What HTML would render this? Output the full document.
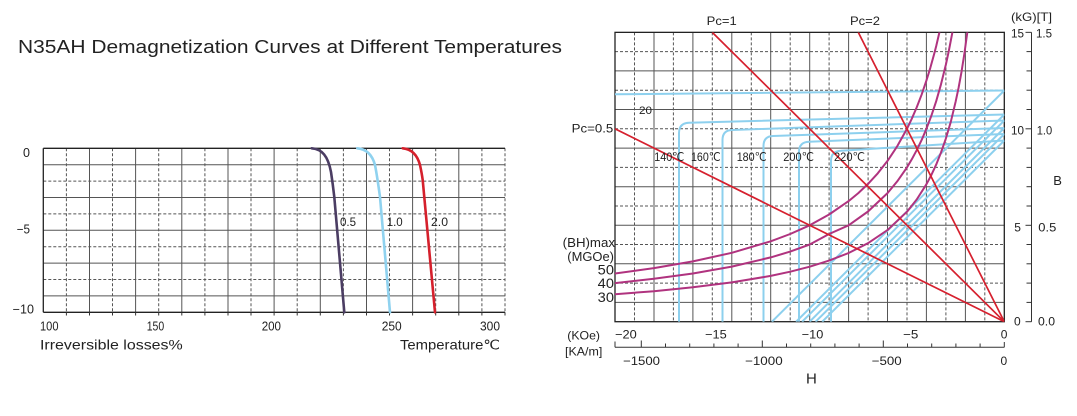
<!DOCTYPE html>
<html><head><meta charset="utf-8"><style>
html,body{margin:0;padding:0;background:#fff;}
svg{display:block;}
text{font-family:"Liberation Sans",Arial,sans-serif;fill:#222;}
</style></head><body>
<svg width="1077" height="416" viewBox="0 0 1077 416" xmlns="http://www.w3.org/2000/svg">
<rect width="1077" height="416" fill="#fff"/>
<text x="18" y="53" font-size="18.5" textLength="544" lengthAdjust="spacingAndGlyphs">N35AH Demagnetization Curves at Different Temperatures</text>

<!-- LEFT CHART GRID -->
<g stroke="#555" stroke-width="1" fill="none">
<g stroke-dasharray="3 2">
<line x1="66.4" y1="148.3" x2="66.4" y2="312.3"/><line x1="112.5" y1="148.3" x2="112.5" y2="312.3"/>
<line x1="158.7" y1="148.3" x2="158.7" y2="312.3"/><line x1="204.9" y1="148.3" x2="204.9" y2="312.3"/>
<line x1="251.0" y1="148.3" x2="251.0" y2="312.3"/><line x1="297.2" y1="148.3" x2="297.2" y2="312.3"/>
<line x1="343.4" y1="148.3" x2="343.4" y2="312.3"/><line x1="389.5" y1="148.3" x2="389.5" y2="312.3"/>
<line x1="435.7" y1="148.3" x2="435.7" y2="312.3"/><line x1="481.9" y1="148.3" x2="481.9" y2="312.3"/>
<line x1="505" y1="148.3" x2="505" y2="312.3"/>
<line x1="43.3" y1="181.1" x2="505" y2="181.1"/><line x1="43.3" y1="213.9" x2="505" y2="213.9"/>
<line x1="43.3" y1="246.7" x2="505" y2="246.7"/><line x1="43.3" y1="279.5" x2="505" y2="279.5"/>
</g>
<line x1="89.5" y1="148.3" x2="89.5" y2="312.3"/><line x1="135.6" y1="148.3" x2="135.6" y2="312.3"/>
<line x1="181.8" y1="148.3" x2="181.8" y2="312.3"/><line x1="228.0" y1="148.3" x2="228.0" y2="312.3"/>
<line x1="274.1" y1="148.3" x2="274.1" y2="312.3"/><line x1="320.3" y1="148.3" x2="320.3" y2="312.3"/>
<line x1="366.5" y1="148.3" x2="366.5" y2="312.3"/><line x1="412.6" y1="148.3" x2="412.6" y2="312.3"/>
<line x1="458.8" y1="148.3" x2="458.8" y2="312.3"/>
<line x1="43.3" y1="164.7" x2="505" y2="164.7"/><line x1="43.3" y1="197.5" x2="505" y2="197.5"/>
<line x1="43.3" y1="230.3" x2="505" y2="230.3"/><line x1="43.3" y1="263.1" x2="505" y2="263.1"/>
<line x1="43.3" y1="295.9" x2="505" y2="295.9"/>
</g>
<g stroke="#222" stroke-width="1.3" fill="none">
<line x1="43.3" y1="148.3" x2="505" y2="148.3"/>
<line x1="43.3" y1="148.3" x2="43.3" y2="312.3"/>
<line x1="43.3" y1="312.3" x2="505" y2="312.3"/>
</g>
<g stroke="#333" stroke-width="1">
<line x1="66.4" y1="312.3" x2="66.4" y2="315.5"/><line x1="89.5" y1="312.3" x2="89.5" y2="315.5"/>
<line x1="112.5" y1="312.3" x2="112.5" y2="315.5"/><line x1="135.6" y1="312.3" x2="135.6" y2="315.5"/>
<line x1="158.7" y1="312.3" x2="158.7" y2="315.5"/><line x1="181.8" y1="312.3" x2="181.8" y2="315.5"/>
<line x1="204.9" y1="312.3" x2="204.9" y2="315.5"/><line x1="228.0" y1="312.3" x2="228.0" y2="315.5"/>
<line x1="251.0" y1="312.3" x2="251.0" y2="315.5"/><line x1="274.1" y1="312.3" x2="274.1" y2="315.5"/>
<line x1="297.2" y1="312.3" x2="297.2" y2="315.5"/><line x1="320.3" y1="312.3" x2="320.3" y2="315.5"/>
<line x1="343.4" y1="312.3" x2="343.4" y2="315.5"/><line x1="366.5" y1="312.3" x2="366.5" y2="315.5"/>
<line x1="389.5" y1="312.3" x2="389.5" y2="315.5"/><line x1="412.6" y1="312.3" x2="412.6" y2="315.5"/>
<line x1="435.7" y1="312.3" x2="435.7" y2="315.5"/><line x1="458.8" y1="312.3" x2="458.8" y2="315.5"/>
<line x1="481.9" y1="312.3" x2="481.9" y2="315.5"/><line x1="505" y1="312.3" x2="505" y2="315.5"/>
</g>
<!-- left curves -->
<g fill="none" stroke-width="2.6" stroke-linecap="round">
<path d="M311.7,148.3 C322,149 328,156 331,172 C332.5,182 333.5,190 334.3,197 L344.3,312.3" stroke="#4b3d63"/>
<path d="M357.3,148.3 C366,149 372,154 375,165 C377,175 378.5,186 380,197 L390,312.3" stroke="#8fd2ef"/>
<path d="M402.7,148.3 C411,149 417,154 420,165 C421.5,172 422.3,177 422.7,180 L435,312.3" stroke="#d5202c"/>
</g>
<g font-size="11.5">
<text x="340" y="226" textLength="16" lengthAdjust="spacingAndGlyphs">0.5</text>
<text x="386.7" y="226" textLength="16" lengthAdjust="spacingAndGlyphs">1.0</text>
<text x="431" y="226" textLength="17" lengthAdjust="spacingAndGlyphs">2.0</text>
</g>
<g font-size="12.5">
<text x="23" y="157">0</text>
<text x="16.7" y="233.5" textLength="13.3" lengthAdjust="spacingAndGlyphs">−5</text>
<text x="12.7" y="313.5" textLength="21.3" lengthAdjust="spacingAndGlyphs">−10</text>
<text x="40" y="330.5" textLength="18.5" lengthAdjust="spacingAndGlyphs">100</text>
<text x="146.7" y="330.5" textLength="17.5" lengthAdjust="spacingAndGlyphs">150</text>
<text x="261.7" y="330.5" textLength="19.3" lengthAdjust="spacingAndGlyphs">200</text>
<text x="381.7" y="330.5" textLength="20" lengthAdjust="spacingAndGlyphs">250</text>
<text x="480" y="330.5" textLength="20" lengthAdjust="spacingAndGlyphs">300</text>
</g>
<g font-size="14">
<text x="40" y="349.3" textLength="142.7" lengthAdjust="spacingAndGlyphs">Irreversible losses%</text>
<text x="400" y="349.3" textLength="100" lengthAdjust="spacingAndGlyphs">Temperature℃</text>
</g>

<!-- RIGHT CHART GRID -->
<g stroke="#555" stroke-width="1" fill="none">
<g stroke-dasharray="3 2">
<line x1="634.5" y1="32.35" x2="634.5" y2="321.7"/><line x1="673.4" y1="32.35" x2="673.4" y2="321.7"/>
<line x1="712.3" y1="32.35" x2="712.3" y2="321.7"/><line x1="751.3" y1="32.35" x2="751.3" y2="321.7"/>
<line x1="790.2" y1="32.35" x2="790.2" y2="321.7"/><line x1="829.1" y1="32.35" x2="829.1" y2="321.7"/>
<line x1="868.1" y1="32.35" x2="868.1" y2="321.7"/><line x1="907.0" y1="32.35" x2="907.0" y2="321.7"/>
<line x1="945.9" y1="32.35" x2="945.9" y2="321.7"/><line x1="984.8" y1="32.35" x2="984.8" y2="321.7"/>
<line x1="615" y1="51.6" x2="1004.3" y2="51.6"/><line x1="615" y1="90.2" x2="1004.3" y2="90.2"/>
<line x1="615" y1="128.8" x2="1004.3" y2="128.8"/><line x1="615" y1="167.4" x2="1004.3" y2="167.4"/>
<line x1="615" y1="206.0" x2="1004.3" y2="206.0"/><line x1="615" y1="244.5" x2="1004.3" y2="244.5"/>
<line x1="615" y1="283.1" x2="1004.3" y2="283.1"/>
</g>
<line x1="654.0" y1="32.35" x2="654.0" y2="321.7"/><line x1="692.9" y1="32.35" x2="692.9" y2="321.7"/>
<line x1="731.8" y1="32.35" x2="731.8" y2="321.7"/><line x1="770.7" y1="32.35" x2="770.7" y2="321.7"/>
<line x1="809.7" y1="32.35" x2="809.7" y2="321.7"/><line x1="848.6" y1="32.35" x2="848.6" y2="321.7"/>
<line x1="887.5" y1="32.35" x2="887.5" y2="321.7"/><line x1="926.4" y1="32.35" x2="926.4" y2="321.7"/>
<line x1="965.4" y1="32.35" x2="965.4" y2="321.7"/>
<line x1="615" y1="70.9" x2="1004.3" y2="70.9"/><line x1="615" y1="109.5" x2="1004.3" y2="109.5"/>
<line x1="615" y1="148.1" x2="1004.3" y2="148.1"/><line x1="615" y1="186.7" x2="1004.3" y2="186.7"/>
<line x1="615" y1="225.3" x2="1004.3" y2="225.3"/><line x1="615" y1="263.8" x2="1004.3" y2="263.8"/>
<line x1="615" y1="302.4" x2="1004.3" y2="302.4"/>
</g>
<rect x="615" y="32.35" width="389.3" height="289.35" fill="none" stroke="#222" stroke-width="1.3"/>

<defs><clipPath id="pc"><rect x="615" y="32.35" width="389.3" height="289.35"/></clipPath></defs>
<g clip-path="url(#pc)" fill="none">
<!-- blue curves -->
<g stroke="#8dd0ee" stroke-width="2">
<path d="M615,94.3 L1004.3,90.5"/>
<path d="M1004.3,114.5 L689,122.7 Q679,123 679,133 L679,321.7"/>
<path d="M1004.3,120.5 L732,130 Q722.5,130.3 722.5,140 L722.5,321.7"/>
<path d="M1004.3,128 L773,136 Q763.5,136.3 763.5,146 L763.5,321.7"/>
<path d="M1004.3,134 L809,141.7 Q799,142 799,152 L799,321.7"/>
<path d="M1004.3,140.5 L841,150.7 Q831,151 831,161 L831,321.7"/>
<path d="M1004.3,90.5 L771.9,321.7"/>
<path d="M1004.3,114.5 L796.1,321.7"/>
<path d="M1004.3,120.5 L802.1,321.7"/>
<path d="M1004.3,128 L809.6,321.7"/>
<path d="M1004.3,134 L815.6,321.7"/>
<path d="M1004.3,140.5 L822.2,321.7"/>
</g>
<!-- magenta BHmax curves -->
<g stroke="#b0337f" stroke-width="2" stroke-linejoin="round">
<polyline points="615,273.5 653.9,268.1 692.9,261.4 731.8,252.8 770.7,241.3 790.2,234.0 809.7,225.3 829.1,214.5 848.6,201.1 858.3,193.1 868,183.9 877.8,173.3 887.5,160.9 897.2,146.3 907,128.8 911.8,118.7 916.7,107.4 921.6,94.7 926.4,80.6 930.3,67.9 934.2,53.8 936.2,46.1 939.4,32.35 940,29"/>
<polyline points="615,283.1 653.9,278.8 692.9,273.5 731.8,266.6 770.7,257.4 790.2,251.6 809.7,244.5 829.1,234.0 848.6,225.3 868,211.5 887.5,193.1 897.2,181.4 907,167.4 911.8,159.3 916.7,150.2 921.6,140.1 926.4,128.8 931.3,115.9 936.2,101.2 941,84.3 945.9,64.5 948.8,51.0 952.4,32.35 953,29"/>
<polyline points="615,294.2 653.9,291.2 692.9,287.3 731.8,282.4 770.7,275.9 790.2,271.7 809.7,266.7 829.1,260.6 848.6,253 868,243.2 887.5,230.1 907,211.7 916.7,199.5 926.4,184.3 931.3,175.1 936.2,164.6 941,152.5 945.9,138.4 950.8,121.8 955.6,101.8 958.6,87.7 961.5,71.9 964.4,53.5 967.3,32.35 968,29"/>
</g>
<!-- red load lines -->
<g stroke="#d6202e" stroke-width="1.7">
<line x1="1004.3" y1="321.7" x2="615" y2="128.8"/>
<line x1="1004.3" y1="321.7" x2="712.3" y2="32.35"/>
<line x1="1004.3" y1="321.7" x2="858.3" y2="32.35"/>
</g>
</g>

<!-- right chart labels -->
<g font-size="12">
<text x="706.7" y="25" textLength="30" lengthAdjust="spacingAndGlyphs">Pc=1</text>
<text x="850" y="25" textLength="30" lengthAdjust="spacingAndGlyphs">Pc=2</text>
<text x="571.7" y="132.5" textLength="41.6" lengthAdjust="spacingAndGlyphs">Pc=0.5</text>
<text x="1011" y="21" textLength="41" lengthAdjust="spacingAndGlyphs">(kG)[T]</text>
<text x="1011" y="37.3" textLength="13" lengthAdjust="spacingAndGlyphs">15</text>
<text x="1036" y="37.3" textLength="16" lengthAdjust="spacingAndGlyphs">1.5</text>
<text x="1011" y="134.3" textLength="13" lengthAdjust="spacingAndGlyphs">10</text>
<text x="1036.7" y="134.3" textLength="15.5" lengthAdjust="spacingAndGlyphs">1.0</text>
<text x="1014.3" y="231.7">5</text>
<text x="1038.3" y="231.7" textLength="18" lengthAdjust="spacingAndGlyphs">0.5</text>
<text x="1014" y="325.7">0</text>
<text x="1038" y="325.7" textLength="17" lengthAdjust="spacingAndGlyphs">0.0</text>
<text x="639" y="114" font-size="11" textLength="13" lengthAdjust="spacingAndGlyphs">20</text>
<text x="654.3" y="161" textLength="30" lengthAdjust="spacingAndGlyphs">140℃</text>
<text x="691" y="161" textLength="29.7" lengthAdjust="spacingAndGlyphs">160℃</text>
<text x="736.7" y="161" textLength="30" lengthAdjust="spacingAndGlyphs">180℃</text>
<text x="783.3" y="161" textLength="30.7" lengthAdjust="spacingAndGlyphs">200℃</text>
<text x="834" y="161" textLength="31" lengthAdjust="spacingAndGlyphs">220℃</text>
<text x="562.7" y="247" font-size="13" textLength="52.3" lengthAdjust="spacingAndGlyphs">(BH)max</text>
<text x="567.3" y="261" font-size="13" textLength="46.7" lengthAdjust="spacingAndGlyphs">(MGOe)</text>
<text x="597.7" y="274.5" font-size="13.5" textLength="16.3" lengthAdjust="spacingAndGlyphs">50</text>
<text x="597.7" y="288" font-size="13.5" textLength="16.3" lengthAdjust="spacingAndGlyphs">40</text>
<text x="597.7" y="302" font-size="13.5" textLength="16.3" lengthAdjust="spacingAndGlyphs">30</text>
<text x="567.3" y="339.5" textLength="32.7" lengthAdjust="spacingAndGlyphs">(KOe)</text>
<text x="565" y="355.5" textLength="37.3" lengthAdjust="spacingAndGlyphs">[KA/m]</text>
<text x="615" y="338.3" textLength="21.7" lengthAdjust="spacingAndGlyphs">−20</text>
<text x="705" y="338.3" textLength="21.7" lengthAdjust="spacingAndGlyphs">−15</text>
<text x="801.7" y="338.3" textLength="21.6" lengthAdjust="spacingAndGlyphs">−10</text>
<text x="903" y="338.3" textLength="15.3" lengthAdjust="spacingAndGlyphs">−5</text>
<text x="1000.7" y="338.3">0</text>
<text x="623" y="365" textLength="37" lengthAdjust="spacingAndGlyphs">−1500</text>
<text x="745" y="365" textLength="37.7" lengthAdjust="spacingAndGlyphs">−1000</text>
<text x="871.7" y="365" textLength="30" lengthAdjust="spacingAndGlyphs">−500</text>
<text x="1000.5" y="365">0</text>
<text x="806" y="383.5" font-size="15">H</text>
<text x="1053.3" y="185" font-size="13">B</text>
</g>

<!-- right B axis -->
<g stroke="#333" stroke-width="1">
<line x1="1031.5" y1="32.35" x2="1031.5" y2="321.7"/>
<line x1="1025.5" y1="32.35" x2="1031.5" y2="32.35"/><line x1="1026.5" y1="51.6" x2="1031.5" y2="51.6"/>
<line x1="1026.5" y1="70.9" x2="1031.5" y2="70.9"/><line x1="1026.5" y1="90.2" x2="1031.5" y2="90.2"/>
<line x1="1026.5" y1="109.5" x2="1031.5" y2="109.5"/><line x1="1025.5" y1="128.8" x2="1031.5" y2="128.8"/>
<line x1="1026.5" y1="148.1" x2="1031.5" y2="148.1"/><line x1="1026.5" y1="167.4" x2="1031.5" y2="167.4"/>
<line x1="1026.5" y1="186.7" x2="1031.5" y2="186.7"/><line x1="1026.5" y1="206.0" x2="1031.5" y2="206.0"/>
<line x1="1025.5" y1="225.3" x2="1031.5" y2="225.3"/><line x1="1026.5" y1="244.5" x2="1031.5" y2="244.5"/>
<line x1="1026.5" y1="263.8" x2="1031.5" y2="263.8"/><line x1="1026.5" y1="283.1" x2="1031.5" y2="283.1"/>
<line x1="1026.5" y1="302.4" x2="1031.5" y2="302.4"/><line x1="1025.5" y1="321.7" x2="1031.5" y2="321.7"/>
</g>

<!-- KA/m axis -->
<g stroke="#333" stroke-width="1">
<line x1="615" y1="347.3" x2="1004.3" y2="347.3"/>
<line x1="615" y1="341.5" x2="615" y2="347.3"/>
<line x1="641.3" y1="340.5" x2="641.3" y2="347.3"/>
<line x1="665.5" y1="343.5" x2="665.5" y2="347.3"/>
<line x1="689.7" y1="343.5" x2="689.7" y2="347.3"/>
<line x1="713.9" y1="343.5" x2="713.9" y2="347.3"/>
<line x1="738.1" y1="343.5" x2="738.1" y2="347.3"/>
<line x1="762.3" y1="340.5" x2="762.3" y2="347.3"/>
<line x1="786.5" y1="343.5" x2="786.5" y2="347.3"/>
<line x1="810.7" y1="343.5" x2="810.7" y2="347.3"/>
<line x1="834.9" y1="343.5" x2="834.9" y2="347.3"/>
<line x1="859.1" y1="343.5" x2="859.1" y2="347.3"/>
<line x1="883.3" y1="340.5" x2="883.3" y2="347.3"/>
<line x1="907.5" y1="343.5" x2="907.5" y2="347.3"/>
<line x1="931.7" y1="343.5" x2="931.7" y2="347.3"/>
<line x1="955.9" y1="343.5" x2="955.9" y2="347.3"/>
<line x1="980.1" y1="343.5" x2="980.1" y2="347.3"/>
<line x1="1004.3" y1="342" x2="1004.3" y2="347.3"/>
</g>
</svg>
</body></html>
